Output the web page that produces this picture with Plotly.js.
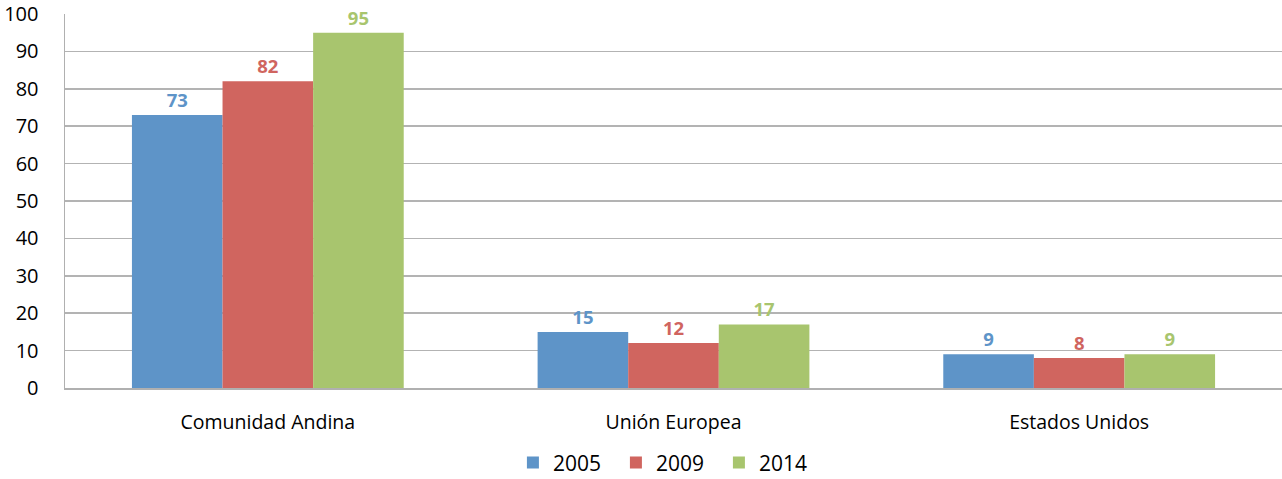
<!DOCTYPE html>
<html>
<head>
<meta charset="utf-8">
<script src="https://cdn.plot.ly/plotly-3.0.1.min.js"></script>
<style>
html,body{margin:0;padding:0;background:#fff;}
#chart{width:1282px;height:479px;}
</style>
</head>
<body>
<div id="chart"></div>
<script>
const categories = ["Comunidad Andina", "Unión Europea", "Estados Unidos"];
const seriesNames = ["2005", "2009", "2014"];
const values2005 = [73, 15, 9];
const values2009 = [82, 12, 8];
const values2014 = [95, 17, 9];
const yTicks = [0, 10, 20, 30, 40, 50, 60, 70, 80, 90, 100];

const colors = ["#5E94C8", "#D0655F", "#A8C56E"];
const allValues = [values2005, values2009, values2014];
const FONT = "Open Sans, Lato, sans-serif";

const traces = allValues.map((vals, i) => ({
  type: "bar",
  name: seriesNames[i],
  x: categories,
  y: vals,
  text: vals.map(String),
  textposition: "outside",
  cliponaxis: false,
  textfont: {family: FONT, size: 18.5, color: colors[i], weight: "bold"},
  marker: {color: colors[i], line: {width: 0}},
  hoverinfo: "skip"
}));

const layout = {
  width: 1282,
  height: 479,
  margin: {l: 65, r: 0, t: 14, b: 91, autoexpand: false},
  paper_bgcolor: "#ffffff",
  plot_bgcolor: "#ffffff",
  barmode: "group",
  bargap: 0.33,
  bargroupgap: 0,
  font: {family: FONT, color: "#000"},
  showlegend: true,
  legend: {
    orientation: "h",
    x: 0.495, xanchor: "center",
    y: -0.255, yanchor: "bottom",
    font: {family: FONT, size: 21, color: "#000"},
    entrywidth: 58,
    entrywidthmode: "pixels",
    traceorder: "normal"
  },
  xaxis: {
    showgrid: false,
    showline: true,
    linecolor: "#b0b0b0",
    linewidth: 1.5,
    ticks: "",
    tickfont: {family: FONT, size: 19.5, color: "#000"},
    ticklabelstandoff: 16,
    fixedrange: true
  },
  yaxis: {
    range: [0, 100],
    tickvals: yTicks,
    ticktext: yTicks.map(String),
    showgrid: true,
    gridcolor: "#b3b3b3",
    gridwidth: 1.5,
    zeroline: false,
    showline: true,
    linecolor: "#b0b0b0",
    linewidth: 1.5,
    ticks: "",
    ticklabelstandoff: 21,
    tickfont: {family: FONT, size: 20, color: "#000"},
    fixedrange: true
  }
};

Plotly.newPlot("chart", traces, layout, {displayModeBar: false, staticPlot: true});
</script>
</body>
</html>
